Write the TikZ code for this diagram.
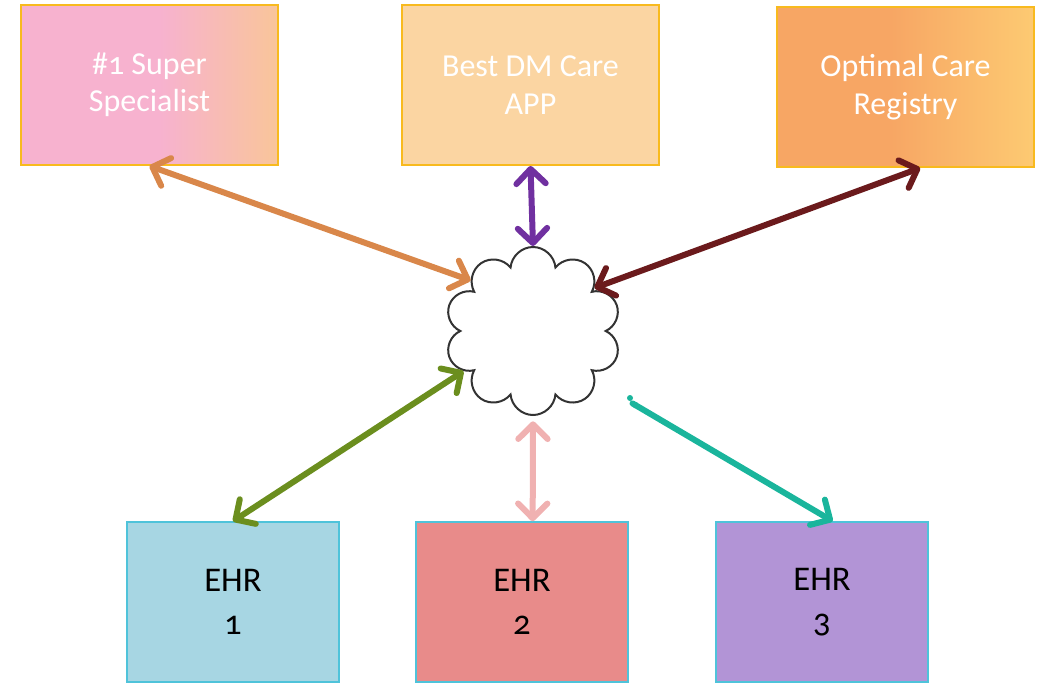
\documentclass[tikz,border=0pt]{standalone}
\usepackage{fontspec}
\setmainfont{Carlito}[Numbers=OldStyle]
\usepackage{tikz}
\usetikzlibrary{positioning, arrows.meta, shapes.symbols}

\definecolor{specL}{HTML}{F7B2CF}
\definecolor{specR}{HTML}{F9C59A}
\definecolor{appFill}{HTML}{FBD5A2}
\definecolor{regL}{HTML}{F7A664}
\definecolor{regR}{HTML}{FDCA72}
\definecolor{goldLine}{HTML}{F8BA1E}
\definecolor{cyanLine}{HTML}{4FC3DA}
\definecolor{ehrA}{HTML}{A7D6E3}
\definecolor{ehrB}{HTML}{E88B8A}
\definecolor{ehrC}{HTML}{B294D6}
\definecolor{arrOrange}{HTML}{D9874A}
\definecolor{arrPurple}{HTML}{7030A0}
\definecolor{arrRed}{HTML}{6B1A1C}
\definecolor{arrGreen}{HTML}{6B8E1E}
\definecolor{arrPink}{HTML}{F0B1B1}
\definecolor{arrTeal}{HTML}{1AB59C}

% Gradients that stay flat over the left part
\pgfdeclarehorizontalshading{specShade}{100bp}{color(0bp)=(specL); color(25bp)=(specL); color(52bp)=(specL); color(75bp)=(specR); color(100bp)=(specR)}
\pgfdeclarehorizontalshading{regShade}{100bp}{color(0bp)=(regL); color(25bp)=(regL); color(47bp)=(regL); color(75bp)=(regR); color(100bp)=(regR)}

\begin{document}
\begin{tikzpicture}[x=0.75pt, y=-0.75pt,
		topbox/.style={draw=goldLine, line width=1.5pt, minimum width=257*0.75pt, minimum height=160*0.75pt, text=white, align=center, font=\fontsize{24}{28}\selectfont},
		ehrbox/.style={draw=cyanLine, line width=1.2pt, minimum width=212*0.75pt, minimum height=160*0.75pt, align=center, font=\fontsize{26}{32}\selectfont},
		link/.style={line width=4.5pt, line cap=round, {Straight Barb[length=11pt,width=22pt,round]}-{Straight Barb[length=11pt,width=22pt,round]}}]
			
			\useasboundingbox (0,0) rectangle (1046,682);
			
			% Top row
			\node[topbox, shading=specShade] (spec) at (149.5,85) {\#1 Super\\Specialist};
			\node[topbox, fill=appFill] (app) at (530.5,85) {Best DM Care\\APP};
			\node[topbox, shading=regShade] (reg) at (905.5,87) {Optimal Care\\Registry};
			
			% Cloud in the middle
			\node[cloud, cloud puffs=10, cloud puff arc=170, draw=black!80, line width=1.5pt, minimum width=176*0.75pt, minimum height=168*0.75pt, aspect=1] (hub) at (533,331) {};
			
			% Bottom row (runs off the page)
			\node[ehrbox, fill=ehrA] (ehr1) at (233,602) {EHR\\1};
			\node[ehrbox, fill=ehrB] (ehr2) at (522,602) {EHR\\2};
			\node[ehrbox, fill=ehrC] (ehr3) at (822,602) {EHR\\3};
			
			% Links
			\draw[link, arrOrange] (spec.south) -- (hub.141);
			\draw[link, arrPurple] (app.south) -- (hub.north);
			\draw[link, arrRed] ([xshift=11pt]reg.south) -- (hub.35);
			\draw[link, arrGreen] (hub.210) -- (ehr1.north);
			\draw[link, arrPink] ([yshift=-4pt]hub.south) -- ([xshift=8pt]ehr2.north);
			\draw[link, arrTeal, {Round Cap}-{Straight Barb[length=11pt,width=22pt,round]}, shorten <=30pt] (hub.-39) -- ([xshift=8pt]ehr3.north);
			\fill[arrTeal] (630,398) circle (3);
			
		\end{tikzpicture}
\end{document}
